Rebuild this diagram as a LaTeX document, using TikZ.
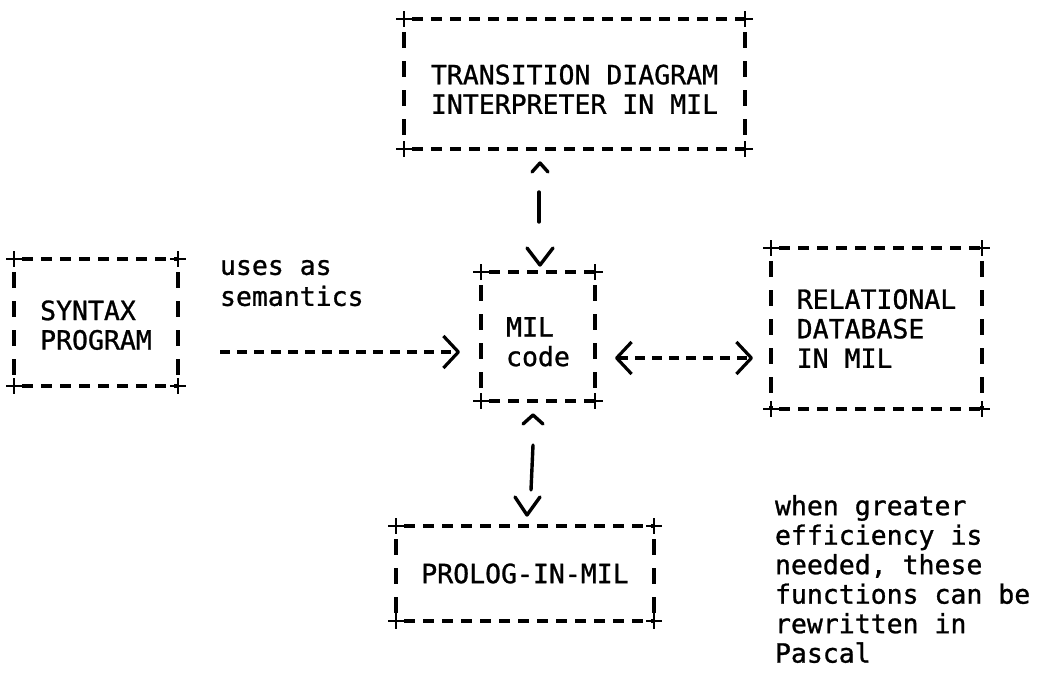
\documentclass[tikz,border=0pt]{standalone}
\usepackage{fontspec}
\setmainfont{DejaVu Sans Mono}[FakeBold=1]
\usetikzlibrary{arrows.meta,calc}
\begin{document}
\begin{tikzpicture}[x=1pt,y=-1pt,
  >={Straight Barb[length=15pt,width=32pt,line join=round]},
  txt/.style={font=\fontsize{26.5pt}{29.5pt}\selectfont, inner sep=0pt, outer sep=0pt},
  tbox/.style={txt, rectangle, align=left, minimum width=#1},
  hline/.style={line width=3.2pt, dash pattern=on 11pt off 8pt, dash phase=11pt},
  vline/.style={line width=3.2pt, dash pattern=on 16pt off 13pt, dash phase=16pt},
  plus/.style={line width=2.6pt},
  darr/.style={line width=3.2pt, dash pattern=on 10pt off 7pt, line join=round},
  chev/.style={line width=3.4pt, line join=round, line cap=round},
  solidl/.style={line width=3.4pt, line cap=round}
]
\useasboundingbox (0,0) rectangle (1038,672);

% boxes
\node[tbox=341pt, minimum height=130pt] (top) at (574.5,84) {\rule{0pt}{30pt}TRANSITION DIAGRAM\\INTERPRETER IN MIL};
\node[tbox=164pt, minimum height=127pt] (syn) at (96,322.5) {\rule{0pt}{25pt}SYNTAX\\PROGRAM};
\node[tbox=114pt, minimum height=129pt] (mil) at (538,336.5) {\rule{0pt}{30pt}MIL\\code};
\node[tbox=211pt, minimum height=161pt] (rel) at (876.5,328.5) {RELATIONAL\\DATABASE\\IN MIL};
\node[tbox=258pt, minimum height=95pt] (pro) at (525,573.5) {PROLOG-IN-MIL};

% dashed borders with + corners
\foreach \n in {top,syn,mil,rel,pro}{
  \draw[hline] (\n.north west) -- (\n.north east);
  \draw[hline] (\n.south west) -- (\n.south east);
  \draw[vline] (\n.north west) -- (\n.south west);
  \draw[vline] (\n.north east) -- (\n.south east);
  \foreach \c in {north west,north east,south west,south east}{
    \draw[plus] (\n.\c) +(-8,0) -- +(8,0) +(0,-8) -- +(0,8);
  }
}

% free texts
\node[txt, align=left, anchor=north west, font=\fontsize{26.5pt}{31pt}\selectfont] (uses) at (220,260) {uses as\\semantics};
\node[txt, align=left, anchor=north west] (note) at (775,495) {when greater\\efficiency is\\needed, these\\functions can be\\rewritten in\\Pascal};

% horizontal connectors
\draw[darr, ->, shorten <=42pt, shorten >=21pt]
  ($(syn.east)+(0,29.5)$) -- ($(mil.west)+(0,15.5)$);
\draw[darr, <->, shorten <=20pt, shorten >=18pt]
  ($(mil.east)+(0,21.5)$) -- ($(rel.west)+(0,29.5)$);

% vertical connector: top <-> MIL
\draw[chev] ($(mil.north)+(-6,-100)$) -- ++(8,-9) -- ++(8,9);
\draw[solidl] ($(top.south)+(-35.5,43)$) -- ($(mil.north)+(1,-50)$);
\draw[chev] ($(mil.north)+(-11,-24)$) -- ++(13,17) -- ++(13,-17);

% vertical connector: MIL <-> PROLOG
\draw[chev] ($(mil.south)+(-15,23)$) -- ++(10,-9) -- ++(10,9);
\draw[solidl] ($(mil.south)+(-5,44)$) -- ($(pro.north)+(6,-36)$);
\draw[chev] ($(pro.north)+(-10,-29)$) -- ++(12,18) -- ++(13,-18);
\end{tikzpicture}
\end{document}
